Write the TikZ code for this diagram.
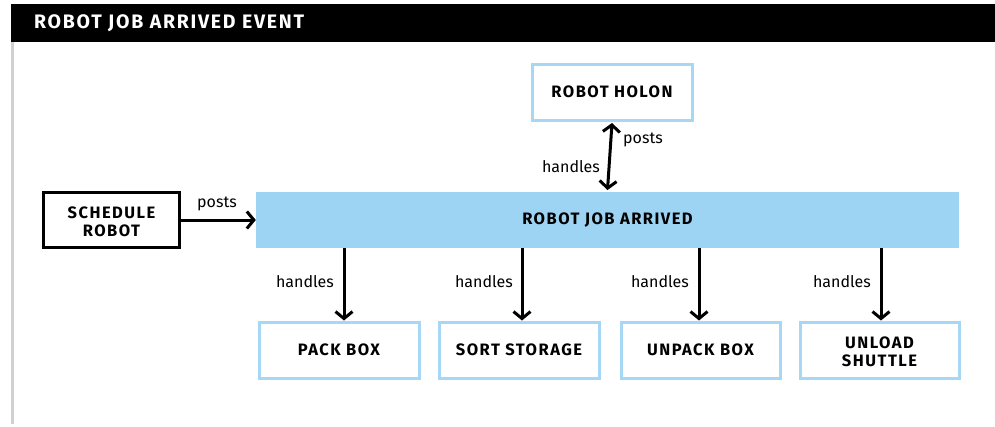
\documentclass[tikz,border=0pt]{standalone}
\usepackage{fontspec}
\setmainfont{Fira Sans}
\newfontfamily\capsfont[LetterSpace=9]{Fira Sans}
\usetikzlibrary{arrows.meta}
\definecolor{barblue}{HTML}{9DD3F3}
\definecolor{edgeblue}{HTML}{A6D8F5}
\definecolor{railgray}{HTML}{D0D0D0}
% two-line caption, nudged down a little inside its box
\newcommand{\twolines}[2]{\raisebox{-3.5pt}[\height][\depth]{\begin{tabular}{@{}c@{}}#1\\#2\end{tabular}}}
\begin{document}
\begin{tikzpicture}[x=1pt,y=-1pt,
  boxlabel/.style={font=\capsfont\fontsize{16.5}{18}\selectfont\bfseries, align=center, text=black},
  bluebox/.style={boxlabel, draw=edgeblue, line width=3pt, fill=white, minimum width=#1, minimum height=56pt, inner sep=0pt},
  blackbox/.style={boxlabel, draw=black, line width=2.4pt, fill=white, minimum width=#1, minimum height=55pt, inner sep=0pt},
  edgelabel/.style={font=\fontsize{16}{18}\selectfont, text=black, inner sep=0pt},
  link/.style={line width=3pt, -{Straight Barb[length=7pt,width=17pt,line width=3pt]}},
  biglink/.style={line width=3pt, {Straight Barb[length=7pt,width=17pt,line width=3pt]}-{Straight Barb[length=7pt,width=17pt,line width=3pt]}}
]
\useasboundingbox (0,0) rectangle (995,426);
% header band and side rail
\fill[black] (11,4) rectangle (995,42);
\node[anchor=west, text=white, font=\capsfont\fontsize{19.5}{22}\selectfont\bfseries, inner sep=0pt] (title) at (34,23) {ROBOT JOB ARRIVED EVENT};
\fill[railgray] (11,42) rectangle (14,424);

% event bar
\node[fill=barblue, minimum width=703pt, minimum height=56pt, inner sep=0pt, boxlabel] (event) at (607.5,220) {ROBOT JOB ARRIVED};

% publishers and subscribers
\node[blackbox=136pt] (schedule) at (111.5,220) {\twolines{SCHEDULE}{ROBOT}};
\node[bluebox=160pt] (holon) at (612,92) {ROBOT HOLON};
\node[bluebox=160pt] (pack) at (339,350) {PACK BOX};
\node[bluebox=160pt] (sort) at (519,350) {SORT STORAGE};
\node[bluebox=159pt] (unpack) at (700.5,350) {UNPACK BOX};
\node[bluebox=159pt] (unload) at (879.5,350) {\twolines{UNLOAD}{SHUTTLE}};

% connectors
\draw[link] (schedule.east) -- (event.west);
\node[edgelabel] (lpost1) at (217,204) {posts};

\draw[biglink] (holon.south) ++(0,1.5) coordinate (hs) -- (event.north |- 0,190) coordinate (ht);
\node[edgelabel] (lpost2) at (643,140) {posts};
\node[edgelabel] (lhand0) at (571,167) {handles};

\coordinate (p1) at (344,248);
\coordinate (p2) at (522,248);
\coordinate (p3) at (699,248);
\coordinate (p4) at (881,248);
\draw[link] (p1) -- (p1 |- pack.north);
\draw[link] (p2) -- (p2 |- sort.north);
\draw[link] (p3) -- (p3 |- unpack.north);
\draw[link] (p4) -- (p4 |- unload.north);
\node[edgelabel] (lhand1) at (305,282) {handles};
\node[edgelabel] (lhand2) at (484,282) {handles};
\node[edgelabel] (lhand3) at (660,282) {handles};
\node[edgelabel] (lhand4) at (842,282) {handles};
\end{tikzpicture}
\end{document}
